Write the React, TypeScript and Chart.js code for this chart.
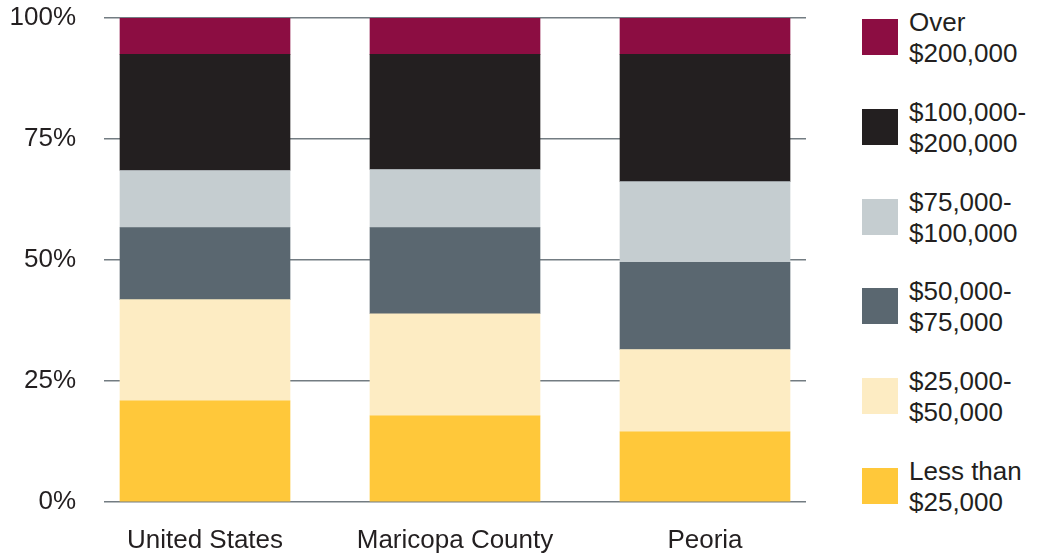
import React, { useEffect, useRef } from "react";
import { Chart, registerables } from "chart.js";

Chart.register(...registerables);

const categories = ["United States", "Maricopa County", "Peoria"];
const seriesLabels = [
  ["Less than", "$25,000"],
  ["$25,000-", "$50,000"],
  ["$50,000-", "$75,000"],
  ["$75,000-", "$100,000"],
  ["$100,000-", "$200,000"],
  ["Over", "$200,000"],
];
const seriesColors = ["#FFC83A", "#FDECC3", "#5A6770", "#C5CDD0", "#231F20", "#8C0D42"];
const lessThan25k = [20.9, 17.8, 14.5];
const from25kTo50k = [20.9, 21.1, 17.0];
const from50kTo75k = [14.9, 17.8, 18.0];
const from75kTo100k = [11.8, 12.0, 16.7];
const from100kTo200k = [24.0, 23.8, 26.3];
const over200k = [7.5, 7.5, 7.5];
const seriesValues = [lessThan25k, from25kTo50k, from50kTo75k, from75kTo100k, from100kTo200k, over200k];
const yTicks = [0, 25, 50, 75, 100];

const FONT = "'Liberation Sans', Arial, Helvetica, sans-serif";
const TEXT = "#231F20";

export default function App() {
  const ref = useRef<HTMLCanvasElement | null>(null);
  useEffect(() => {
    if (!ref.current) return;
    const chart = new Chart(ref.current, {
      type: "bar",
      data: {
        datasets: seriesValues.map((vals, si) => ({
          label: seriesLabels[si].join(" "),
          data: vals.map((v, i) => ({ x: i, y: v })),
          backgroundColor: seriesColors[si],
          borderWidth: 0,
          barThickness: 170,
        })),
      },
      options: {
        animation: false,
        responsive: false,
        maintainAspectRatio: false,
        layout: { padding: { top: 18, right: 34, bottom: 0, left: 0 } },
        plugins: { legend: { display: false }, tooltip: { enabled: false } },
        scales: {
          x: {
            type: "linear",
            stacked: true,
            offset: false,
            min: -0.404,
            max: 2.404,
            grid: { display: false },
            border: { display: false },
            afterBuildTicks: (axis: any) => {
              axis.ticks = categories.map((_, i) => ({ value: i }));
            },
            afterFit: (axis: any) => {
              axis.height = 58;
              axis.paddingLeft = 0;
              axis.paddingRight = 0;
            },
            ticks: {
              autoSkip: false,
              maxRotation: 0,
              padding: 15,
              color: TEXT,
              font: { family: FONT, size: 26 },
              callback: (v: any) => categories[v as number] ?? "",
            },
          },
          y: {
            stacked: true,
            min: 0,
            max: 100,
            afterBuildTicks: (axis: any) => {
              axis.ticks = yTicks.map((v) => ({ value: v }));
            },
            afterFit: (axis: any) => {
              axis.width = 104;
              axis.paddingTop = 0;
              axis.paddingBottom = 0;
            },
            grid: { color: "#737C82", lineWidth: 1.5, drawTicks: false },
            border: { display: false },
            ticks: {
              padding: 28,
              color: TEXT,
              font: { family: FONT, size: 26 },
              callback: (v: any) => v + "%",
            },
          },
        },
      },
    });
    return () => chart.destroy();
  }, []);

  const legendOrder = seriesLabels.map((_, i) => i).reverse();

  return (
    <div style={{ position: "fixed", left: 0, top: 0, width: 1041, height: 560, background: "#fff" }}>
      <canvas ref={ref} width={840} height={560} style={{ position: "absolute", left: 0, top: 0, width: 840, height: 560 }} />
      {legendOrder.map((si, k) => (
        <div
          key={si}
          style={{
            position: "absolute",
            left: 862,
            top: 19 + k * 89.8 - 13,
            height: 62,
            display: "flex",
            alignItems: "center",
            fontFamily: FONT,
            fontSize: 26,
            lineHeight: "31px",
            color: TEXT,
          }}
        >
          <div style={{ width: 36, height: 36, background: seriesColors[si], flex: "none" }} />
          <div style={{ marginLeft: 11, whiteSpace: "nowrap", position: "relative", top: 1 }}>
            {seriesLabels[si].map((t, j) => (
              <div key={j}>{t}</div>
            ))}
          </div>
        </div>
      ))}
    </div>
  );
}
